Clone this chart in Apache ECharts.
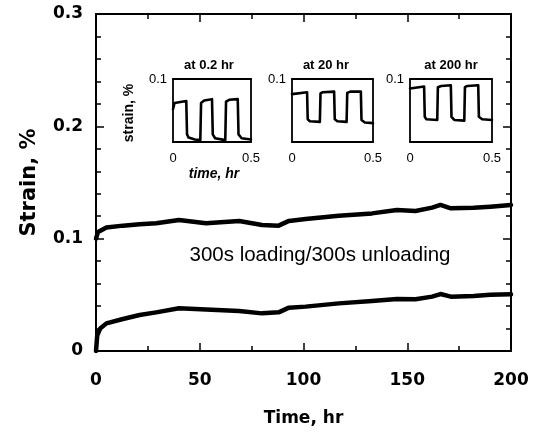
<!DOCTYPE html>
<html>
<head>
<meta charset="utf-8">
<script src="https://cdn.jsdelivr.net/npm/echarts@6/dist/echarts.min.js"></script>
<style>html,body{margin:0;padding:0;background:#fff;}#c{width:533px;height:436px;}</style>
</head>
<body>
<div id="c"></div>
<script>
// Main curves (time in hr, strain in %)
const upperTime   = [0, 1, 5, 13, 21, 29, 40, 53, 69, 80, 88, 93, 101, 117, 133, 145, 154, 162, 166, 171, 182, 190, 200];
const upperStrain = [0.100, 0.106, 0.110, 0.1116, 0.1128, 0.1137, 0.1167, 0.1137, 0.1158, 0.1122, 0.1116, 0.1158, 0.1175, 0.1205, 0.1225, 0.1256, 0.1247, 0.1276, 0.130, 0.127, 0.1276, 0.1285, 0.130];
const lowerTime   = [0, 0.6, 2, 5, 13, 21, 29, 40, 53, 69, 80, 88, 93, 101, 117, 133, 145, 154, 162, 166, 171, 182, 190, 200];
const lowerStrain = [0.0, 0.014, 0.020, 0.0246, 0.0285, 0.032, 0.0344, 0.038, 0.037, 0.0356, 0.0335, 0.0344, 0.0386, 0.0395, 0.0424, 0.0445, 0.0463, 0.046, 0.0484, 0.0507, 0.0484, 0.049, 0.050, 0.0505];

// Insets (time in hr, strain in %)
const inset1Time   = [0, 0.01, 0.085, 0.09, 0.10, 0.14, 0.175, 0.18, 0.20, 0.25, 0.255, 0.27, 0.335, 0.34, 0.36, 0.415, 0.42, 0.44, 0.5];
const inset1Strain = [0.052, 0.062, 0.065, 0.012, 0.007, 0.004, 0.003, 0.062, 0.066, 0.068, 0.012, 0.006, 0.003, 0.064, 0.067, 0.068, 0.012, 0.006, 0.004];
const inset2Time   = [0, 0.01, 0.093, 0.097, 0.11, 0.172, 0.176, 0.19, 0.26, 0.264, 0.28, 0.337, 0.341, 0.36, 0.425, 0.429, 0.45, 0.5];
const inset2Strain = [0.076, 0.078, 0.079, 0.036, 0.033, 0.032, 0.077, 0.079, 0.080, 0.036, 0.033, 0.032, 0.078, 0.080, 0.080, 0.035, 0.031, 0.030];
const inset3Time   = [0, 0.01, 0.086, 0.09, 0.10, 0.166, 0.17, 0.19, 0.249, 0.253, 0.27, 0.331, 0.335, 0.35, 0.416, 0.42, 0.44, 0.5];
const inset3Strain = [0.085, 0.087, 0.088, 0.040, 0.036, 0.035, 0.087, 0.089, 0.090, 0.040, 0.035, 0.034, 0.087, 0.089, 0.090, 0.040, 0.036, 0.035];

const insetTitles = ['at 0.2 hr', 'at 20 hr', 'at 200 hr'];
const mainXTicks = [0, 50, 100, 150, 200];
const mainYTicks = [0, 0.1, 0.2, 0.3];

const zip = (a, b) => a.map((v, i) => [v, b[i]]);

const boldFont = 'DejaVu Sans';
const lineStyleAxis = { color: '#000', width: 2 };

const mainX = (pos, show) => ({
  type: 'value', gridIndex: 0, position: pos, min: 0, max: 200, interval: 50,
  axisLine: { show: true, onZero: false, lineStyle: lineStyleAxis },
  axisTick: { show: true, inside: true, length: 8, lineStyle: { color: '#000', width: 1.5 } },
  minorTick: { show: true, splitNumber: 2, length: 5, lineStyle: { color: '#000', width: 1.5 } },
  splitLine: { show: false },
  axisLabel: { show: show, margin: 21, color: '#000', fontFamily: boldFont, fontWeight: 'bold', fontSize: 17 },
  name: show ? 'Time, hr' : '', nameLocation: 'middle', nameGap: 59,
  nameTextStyle: { color: '#000', fontFamily: boldFont, fontWeight: 'bold', fontSize: 17 }
});
const mainY = (pos, show) => ({
  type: 'value', gridIndex: 0, position: pos, min: 0, max: 0.3, interval: 0.1,
  axisLine: { show: true, onZero: false, lineStyle: lineStyleAxis },
  axisTick: { show: true, inside: true, length: 8, lineStyle: { color: '#000', width: 1.5 } },
  minorTick: { show: true, splitNumber: 5, length: 5, lineStyle: { color: '#000', width: 1.5 } },
  splitLine: { show: false },
  axisLabel: { show: show, margin: 13, color: '#000', fontFamily: boldFont, fontWeight: 'bold', fontSize: 17,
    formatter: v => (Math.round(v * 10) / 10).toString() },
  name: show ? 'Strain, %' : '', nameLocation: 'middle', nameGap: 56, nameRotate: 90,
  nameTextStyle: { color: '#000', fontFamily: boldFont, fontWeight: 'bold', fontSize: 21 }
});

const insetX = g => ({
  type: 'value', gridIndex: g, min: 0, max: 0.5, interval: 0.5,
  axisLine: { show: true, onZero: false, lineStyle: { color: '#000', width: 1.8 } },
  axisTick: { show: false }, splitLine: { show: false },
  axisLabel: { show: true, margin: 10, color: '#000', fontFamily: 'Liberation Sans', fontSize: 13 }
});
const insetXTop = g => ({
  type: 'value', gridIndex: g, position: 'top', min: 0, max: 0.5,
  axisLine: { show: true, onZero: false, lineStyle: { color: '#000', width: 1.8 } },
  axisTick: { show: false }, splitLine: { show: false }, axisLabel: { show: false }
});
const insetY = g => ({
  type: 'value', gridIndex: g, min: 0, max: 0.1, interval: 0.1,
  axisLine: { show: true, onZero: false, lineStyle: { color: '#000', width: 1.8 } },
  axisTick: { show: false }, splitLine: { show: false },
  axisLabel: { show: true, showMinLabel: false, margin: 6, color: '#000', fontFamily: 'Liberation Sans', fontSize: 13,
    verticalAlign: 'middle', formatter: v => v === 0 ? '' : '0.1' }
});
const insetYRight = g => ({
  type: 'value', gridIndex: g, position: 'right', min: 0, max: 0.1,
  axisLine: { show: true, onZero: false, lineStyle: { color: '#000', width: 1.8 } },
  axisTick: { show: false }, splitLine: { show: false }, axisLabel: { show: false }
});

const insetGrids = [
  { left: 173, top: 79, width: 78, height: 63 },
  { left: 292, top: 79, width: 81, height: 63 },
  { left: 410, top: 79, width: 82, height: 63 }
];

const lineSeries = (xi, yi, data, w) => ({
  type: 'line', xAxisIndex: xi, yAxisIndex: yi, data: data, showSymbol: false, symbol: 'none',
  lineStyle: { color: '#000', width: w, join: 'round', cap: 'round' }, animation: false, silent: true
});

const option = {
  backgroundColor: '#fff',
  animation: false,
  grid: [
    { left: 96, top: 14, width: 415, height: 337 },
    ...insetGrids
  ],
  xAxis: [
    mainX('bottom', true), mainX('top', false),
    insetX(1), insetXTop(1), insetX(2), insetXTop(2), insetX(3), insetXTop(3)
  ],
  yAxis: [
    mainY('left', true), mainY('right', false),
    insetY(1), insetYRight(1), insetY(2), insetYRight(2), insetY(3), insetYRight(3)
  ],
  series: [
    lineSeries(0, 0, zip(upperTime, upperStrain), 4.5),
    lineSeries(0, 0, zip(lowerTime, lowerStrain), 4.5),
    lineSeries(2, 2, zip(inset1Time, inset1Strain), 2.6),
    lineSeries(4, 4, zip(inset2Time, inset2Strain), 2.6),
    lineSeries(6, 6, zip(inset3Time, inset3Strain), 2.6)
  ],
  graphic: [
    { type: 'text', x: 320, y: 255, style: { text: '300s loading/300s unloading', fill: '#000', font: '20.5px "Liberation Sans"', textAlign: 'center', textVerticalAlign: 'middle' } },
    { type: 'text', x: 209, y: 65, style: { text: insetTitles[0], fill: '#000', font: 'bold 13px "Liberation Sans"', textAlign: 'center', textVerticalAlign: 'middle' } },
    { type: 'text', x: 326, y: 65, style: { text: insetTitles[1], fill: '#000', font: 'bold 13px "Liberation Sans"', textAlign: 'center', textVerticalAlign: 'middle' } },
    { type: 'text', x: 451, y: 65, style: { text: insetTitles[2], fill: '#000', font: 'bold 13px "Liberation Sans"', textAlign: 'center', textVerticalAlign: 'middle' } },
    { type: 'text', x: 129, y: 113, rotation: Math.PI / 2, style: { text: 'strain, %', fill: '#000', font: 'bold 14px "Liberation Sans"', textAlign: 'center', textVerticalAlign: 'middle' } },
    { type: 'text', x: 214, y: 174, style: { text: 'time, hr', fill: '#000', font: 'italic bold 14px "Liberation Sans"', textAlign: 'center', textVerticalAlign: 'middle' } }
  ]
};

const chart = echarts.init(document.getElementById('c'), null, { renderer: 'canvas' });
chart.setOption(option);
</script>
</body>
</html>
